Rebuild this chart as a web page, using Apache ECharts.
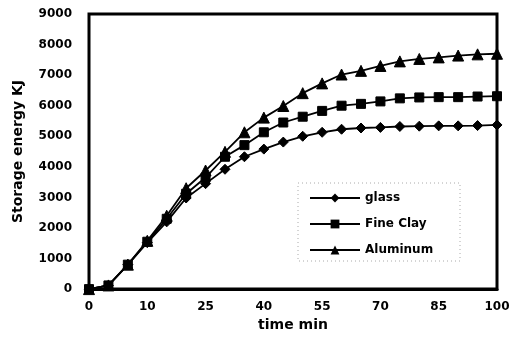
<!DOCTYPE html>
<html>
<head>
<meta charset="utf-8">
<script src="https://cdn.jsdelivr.net/npm/echarts@6/dist/echarts.min.js"></script>
<style>
  html, body { margin: 0; padding: 0; background: #fff; }
  #chart { width: 516px; height: 337px; }
</style>
</head>
<body>
<div id="chart"></div>
<script>
// Time steps (min) along the category axis
const timeMin = ['0', '3', '6', '10', '15', '20', '25', '30', '35', '40', '45',
                 '50', '55', '60', '65', '70', '75', '80', '85', '90', '95', '100'];

// Stored energy (kJ) for each storage material
const glass    = [0, 120, 800, 1520, 2200, 2980, 3450, 3920, 4330, 4580, 4810,
                  5000, 5130, 5230, 5270, 5290, 5320, 5330, 5340, 5340, 5350, 5370];
const fineClay = [0, 120, 800, 1550, 2300, 3120, 3650, 4330, 4710, 5130, 5450,
                  5640, 5830, 6000, 6060, 6140, 6240, 6270, 6280, 6280, 6300, 6310];
const aluminum = [0, 120, 800, 1580, 2400, 3300, 3880, 4490, 5130, 5610, 5990,
                  6410, 6730, 7020, 7140, 7300, 7450, 7530, 7580, 7640, 7680, 7700];

const seriesNames = ['glass', 'Fine Clay', 'Aluminum'];

const FONT = 'DejaVu Sans';
const chart = echarts.init(document.getElementById('chart'), null, { renderer: 'canvas' });

function lineSeries(name, data, symbol, size) {
  return {
    name: name,
    type: 'line',
    data: data,
    symbol: symbol,
    symbolSize: size,
    showAllSymbol: true,
    lineStyle: { color: '#000', width: 1.8 },
    itemStyle: { color: '#000', borderColor: '#000' },
    animation: false
  };
}

chart.setOption({
  animation: false,
  backgroundColor: '#fff',
  grid: {
    left: 89, right: 19, top: 14, bottom: 42,
    show: true, borderColor: '#000', borderWidth: 3, backgroundColor: 'transparent'
  },
  graphic: [{
    type: 'rect',
    shape: { x: 298, y: 183, width: 162, height: 78 },
    style: { fill: 'none', stroke: '#aaa', lineWidth: 1, lineDash: [1, 3] },
    silent: true
  }],
  legend: {
    orient: 'vertical',
    left: 304, top: 187,
    itemWidth: 50, itemHeight: 11, itemGap: 14,
    data: seriesNames,
    textStyle: { fontFamily: FONT, fontWeight: 'bold', fontSize: 12, color: '#000' }
  },
  xAxis: {
    type: 'category',
    data: timeMin,
    boundaryGap: false,
    name: 'time min',
    nameLocation: 'middle',
    nameGap: 24,
    nameTextStyle: { fontFamily: FONT, fontWeight: 'bold', fontSize: 14, color: '#000' },
    axisLine: { lineStyle: { color: '#000', width: 3 } },
    axisTick: { show: false },
    axisLabel: {
      interval: 2, margin: 12,
      fontFamily: FONT, fontWeight: 'bold', fontSize: 12, color: '#000'
    },
    splitLine: { show: false }
  },
  yAxis: {
    type: 'value',
    min: 0, max: 9000, interval: 1000,
    name: 'Storage energy KJ',
    nameLocation: 'middle',
    nameGap: 64,
    nameTextStyle: { fontFamily: FONT, fontWeight: 'bold', fontSize: 14, color: '#000' },
    axisLine: { show: true, lineStyle: { color: '#000', width: 2 } },
    axisTick: { show: false },
    axisLabel: {
      margin: 17, padding: [0, 0, 8, 0],
      formatter: function (v) { return String(v); },
      fontFamily: FONT, fontWeight: 'bold', fontSize: 12, color: '#000'
    },
    splitLine: { show: false }
  },
  series: [
    lineSeries('glass', glass, 'diamond', 10),
    lineSeries('Fine Clay', fineClay, 'rect', 9),
    lineSeries('Aluminum', aluminum, 'triangle', 11)
  ]
});
</script>
</body>
</html>
